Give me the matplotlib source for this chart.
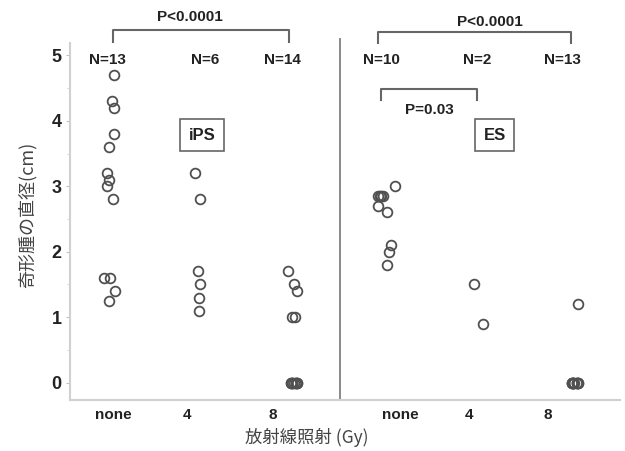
import matplotlib
matplotlib.use("Agg")
import matplotlib.pyplot as plt
import numpy as np

# data (x = jittered positions, 0..2 iPS, 3..5 ES)
ips_none_x = [0.07, 0.05, 0.07, 0.07, 0.02, 0.0, 0.02, 0.0, 0.06, -0.03, 0.03, 0.08, 0.02]
ips_none_y = [4.7, 4.3, 4.2, 3.8, 3.6, 3.2, 3.1, 3.0, 2.8, 1.6, 1.6, 1.4, 1.25]
ips_4_x = [0.95, 1.0, 0.98, 1.0, 0.99, 0.99]
ips_4_y = [3.2, 2.8, 1.7, 1.5, 1.3, 1.1]
ips_8_x = [1.95, 2.01, 2.04, 1.99, 2.02, 1.98, 1.98, 1.99, 1.99, 2.03, 2.03, 2.04, 2.04, 2.01]
ips_8_y = [1.7, 1.5, 1.4, 1.0, 1.0, 0, 0, 0, 0, 0, 0, 0, 0, 0]
es_none_x = [3.10, 2.92, 2.95, 2.97, 2.94, 2.92, 3.01, 3.05, 3.03, 3.01]
es_none_y = [3.0, 2.85, 2.85, 2.85, 2.85, 2.7, 2.6, 2.1, 2.0, 1.8]
es_4_x = [3.95, 4.04]
es_4_y = [1.5, 0.9]
es_8_x = [5.07, 5.0, 5.0, 5.0, 5.01, 5.01, 5.01, 5.06, 5.06, 5.06, 5.07, 5.07, 5.03]
es_8_y = [1.2, 0, 0, 0, 0, 0, 0, 0, 0, 0, 0, 0, 0]

n_labels = ["N=13", "N=6", "N=14", "N=10", "N=2", "N=13"]
n_x = [0.0, 1.05, 1.89, 2.95, 3.98, 4.9]
tick_labels = ["none", "4", "8", "none", "4", "8"]
tick_pos = [0.065, 0.86, 1.785, 3.15, 3.9, 4.74]

fig = plt.figure(figsize=(6.25, 4.51), dpi=100)
ax = fig.add_axes([0.112, 0.113, 0.88, 0.792])

groups = [(ips_none_x, ips_none_y), (ips_4_x, ips_4_y), (ips_8_x, ips_8_y),
          (es_none_x, es_none_y), (es_4_x, es_4_y), (es_8_x, es_8_y)]
for gx, gy in groups:
    ax.plot(gx, gy, 'o', ms=7, mfc='none', mec='#505050', mew=1.3, ls='none')

ax.set_xlim(-0.40, 5.52)
ax.set_ylim(-0.265, 5.19)

# divider between iPS and ES
ax.axvline(2.505, ymin=0, ymax=1.01, color='#808080', lw=1.3, clip_on=False)

bold = dict(family='Liberation Sans', weight='bold', color='#222222')
for lab, xx in zip(n_labels, n_x):
    ax.text(xx, 4.93, lab, ha='center', va='center', fontsize=11, **bold)

# group boxes
for lab, xx in [("iPS", 1.02), ("ES", 4.17)]:
    ax.text(xx, 3.78, lab, ha='center', va='center', fontsize=12, **bold,
            bbox=dict(boxstyle='square,pad=0.5', fc='white', ec='#666666', lw=1.2))

# significance brackets
def bracket(x0, x1, ytop, ybot, label, tx, ty):
    ax.plot([x0, x0, x1, x1], [ybot, ytop, ytop, ybot], color='#666666', lw=1.5, clip_on=False)
    ax.text(tx, ty, label, ha='center', va='center', fontsize=11, clip_on=False, **bold)

bracket(0.065, 1.96, 5.38, 5.20, "P<0.0001", 0.89, 5.58)
bracket(2.92, 4.99, 5.35, 5.18, "P<0.0001", 4.12, 5.51)
bracket(2.95, 3.98, 4.48, 4.31, "P=0.03", 3.47, 4.16)

# axes styling
for s in ['top', 'right']:
    ax.spines[s].set_visible(False)
for s in ['left', 'bottom']:
    ax.spines[s].set_color('#d0d0d0')
    ax.spines[s].set_linewidth(1.5)

ax.set_yticks(range(0, 6))
ax.set_yticks(np.arange(0.5, 5, 1), minor=True)
ax.tick_params(axis='y', which='major', length=3, color='#c0c0c0', labelsize=13, pad=3)
ax.tick_params(axis='y', which='minor', length=2, color='#d0d0d0')
for t in ax.get_yticklabels():
    t.set_fontfamily('Liberation Sans')
    t.set_fontweight('bold')
    t.set_color('#222222')

ax.set_xticks(tick_pos)
ax.set_xticklabels(tick_labels)
ax.tick_params(axis='x', length=0, labelsize=11, pad=6)
for t in ax.get_xticklabels():
    t.set_fontfamily('Liberation Sans')
    t.set_fontweight('bold')
    t.set_color('#222222')

cjk = ['Noto Sans CJK JP', 'DejaVu Sans']
fig.text(0.491, 0.031, "放射線照射 (Gy)", ha='center', va='center', fontsize=12.5,
         family=cjk, color='#444444')
fig.text(0.043, 0.523, "奇形腫の直径(cm)", ha='center', va='center', fontsize=13,
         rotation=90, family=cjk, color='#444444')

fig.savefig("out.png", dpi=100)
